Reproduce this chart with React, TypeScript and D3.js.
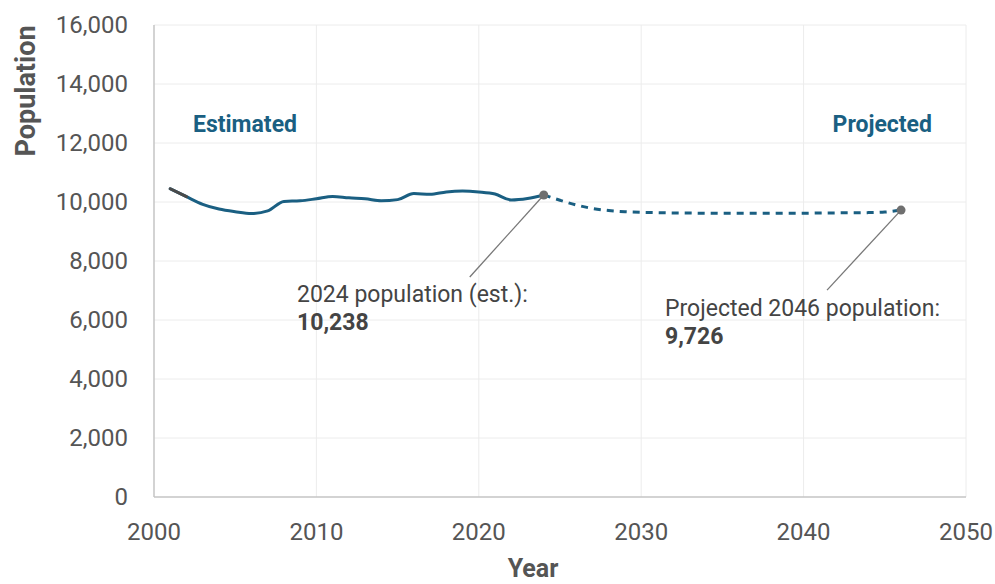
import * as d3 from 'd3';

const estYears = [2001, 2002, 2003, 2004, 2005, 2006, 2007, 2008, 2009, 2010, 2011, 2012,
  2013, 2014, 2015, 2016, 2017, 2018, 2019, 2020, 2021, 2022, 2023, 2024];
const estValues = [10450, 10180, 9920, 9760, 9670, 9610, 9700, 10020, 10040, 10110, 10190, 10140,
  10110, 10040, 10080, 10290, 10260, 10340, 10370, 10340, 10270, 10070, 10120, 10238];

const projYears = [2024, 2025, 2026, 2027, 2028, 2029, 2030, 2031, 2032, 2033, 2034, 2035,
  2036, 2037, 2038, 2039, 2040, 2041, 2042, 2043, 2044, 2045, 2046];
const projValues = [10238, 10060, 9900, 9780, 9710, 9670, 9650, 9640, 9630, 9625, 9620, 9615,
  9615, 9615, 9615, 9620, 9620, 9625, 9630, 9635, 9640, 9660, 9726];

const xTicks = [2000, 2010, 2020, 2030, 2040, 2050];
const yTicks = [0, 2000, 4000, 6000, 8000, 10000, 12000, 14000, 16000];

const W = 995;
const H = 584;
const margin = { left: 154, right: 29, top: 25, bottom: 87 };

const TEAL = '#1a5f82';
const FONT = 'Roboto, "Noto Sans", sans-serif';

export default function App() {
  const x = d3.scaleLinear().domain([2000, 2050]).range([margin.left, W - margin.right]);
  const y = d3.scaleLinear().domain([0, 16000]).range([H - margin.bottom, margin.top]);

  const line = d3.line<[number, number]>()
    .x((d) => x(d[0]))
    .y((d) => y(d[1]))
    .curve(d3.curveMonotoneX);

  const est: [number, number][] = estYears.map((yr, i) => [yr, estValues[i]]);
  const proj: [number, number][] = projYears.map((yr, i) => [yr, projValues[i]]);

  const last = est[est.length - 1];
  const end = proj[proj.length - 1];
  const fmt = d3.format(',');

  return (
    <svg width={W} height={H} style={{ position: 'absolute', left: 0, top: 0, background: '#fff' }}
      fontFamily={FONT}>
      {/* grid */}
      {yTicks.filter((t) => t > 0).map((t) => (
        <line key={'gy' + t} x1={x(2000)} x2={x(2050)} y1={y(t)} y2={y(t)} stroke="#ececec" strokeWidth={1} />
      ))}
      {xTicks.filter((t) => t > 2000).map((t) => (
        <line key={'gx' + t} x1={x(t)} x2={x(t)} y1={y(0)} y2={y(16000)} stroke="#ececec" strokeWidth={1} />
      ))}
      {/* axes */}
      <line x1={x(2000)} x2={x(2000)} y1={y(0)} y2={y(16000)} stroke="#c4c4c4" strokeWidth={1.5} />
      <line x1={x(2000)} x2={x(2050)} y1={y(0)} y2={y(0)} stroke="#c4c4c4" strokeWidth={1.5} />
      {yTicks.map((t) => (
        <text key={'ty' + t} x={128} y={y(t)} dy="0.35em" textAnchor="end" fontSize={24} fill="#555">
          {fmt(t)}
        </text>
      ))}
      {xTicks.map((t) => (
        <text key={'tx' + t} x={x(t)} y={540} textAnchor="middle" fontSize={24} fill="#555">
          {t}
        </text>
      ))}
      <text transform={`translate(35,${91}) rotate(-90)`} textAnchor="middle" fontSize={27}
        fontWeight="bold" fill="#555">Population</text>
      <text x={533} y={577} textAnchor="middle" fontSize={25} fontWeight="bold" fill="#555">Year</text>

      {/* series labels */}
      <text x={193} y={132} fontSize={23} fontWeight="bold" fill={TEAL}>Estimated</text>
      <text x={932} y={132} textAnchor="end" fontSize={23} fontWeight="bold" fill={TEAL}>Projected</text>

      {/* lines */}
      <path d={line(est) ?? ''} fill="none" stroke={TEAL} strokeWidth={3} strokeLinecap="round" />
      <path d={line(est.slice(0, 2)) ?? ''} fill="none" stroke="#4a4a4a" strokeWidth={3} strokeLinecap="round" />
      <path d={line(proj) ?? ''} fill="none" stroke={TEAL} strokeWidth={3} strokeDasharray="7,6" />

      {/* annotations */}
      <line x1={x(last[0])} y1={y(last[1])} x2={x(last[0]) - 74} y2={y(last[1]) + 82} stroke="#777" strokeWidth={1.3} />
      <line x1={x(end[0])} y1={y(end[1])} x2={x(end[0]) - 74} y2={y(end[1]) + 80} stroke="#777" strokeWidth={1.3} />
      <circle cx={x(last[0])} cy={y(last[1])} r={4.5} fill="#6f6f6f" />
      <circle cx={x(end[0])} cy={y(end[1])} r={4.5} fill="#6f6f6f" />

      <text x={297} y={302} fontSize={23} fill="#444">2024 population (est.):</text>
      <text x={297} y={330} fontSize={23} fontWeight="bold" fill="#444">{fmt(last[1])}</text>
      <text x={665} y={316} fontSize={23} fill="#444">Projected 2046 population:</text>
      <text x={665} y={344} fontSize={23} fontWeight="bold" fill="#444">{fmt(end[1])}</text>
    </svg>
  );
}
